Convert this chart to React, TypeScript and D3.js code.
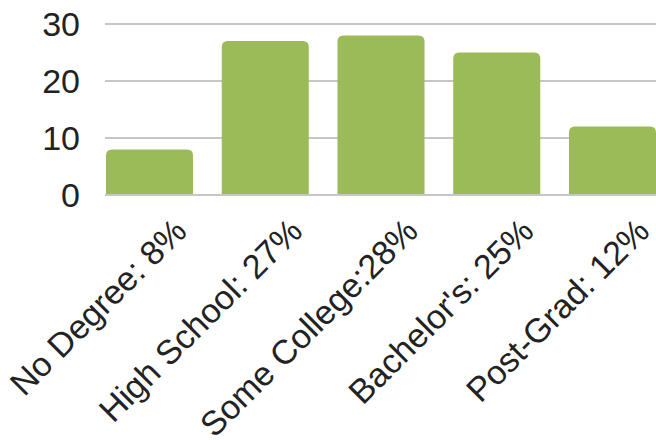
import { useEffect, useRef } from "react"
import * as d3 from "d3"

const categories = ["No Degree: 8%", "High School: 27%", "Some College:28%", "Bachelor's: 25%", "Post-Grad: 12%"]
const values = [8, 27, 28, 25, 12]
const yTicks = [0, 10, 20, 30]

export default function App() {
  const svgRef = useRef<SVGSVGElement>(null)

  useEffect(() => {
    if (!svgRef.current) return
    const width = 656
    const height = 440

    const svg = d3.select(svgRef.current)
    svg.selectAll("*").remove()
    svg.attr("width", width).attr("height", height)

    const x = d3.scaleBand<string>()
      .domain(categories)
      .range([106, 656])
      .paddingInner(0.248)
      .paddingOuter(0)

    const y = d3.scaleLinear().domain([0, 30]).range([195, 24])

    // gridlines
    svg.append("g")
      .selectAll("line")
      .data(yTicks)
      .enter().append("line")
      .attr("x1", 105)
      .attr("x2", width)
      .attr("y1", d => y(d))
      .attr("y2", d => y(d))
      .attr("stroke", "#c6c6c6")
      .attr("stroke-width", 2)

    // y tick labels
    svg.append("g")
      .selectAll("text")
      .data(yTicks)
      .enter().append("text")
      .attr("x", 80)
      .attr("y", d => y(d))
      .attr("dy", "0.36em")
      .attr("text-anchor", "end")
      .attr("font-family", "'Liberation Sans', Arial, sans-serif")
      .attr("font-size", 34)
      .attr("fill", "#222")
      .text(d => d)

    // bars with rounded top corners
    const r = 6
    const barPath = (i: number) => {
      const x0 = x(categories[i]) as number
      const w = x.bandwidth()
      const y0 = y(0) - 1
      const y1 = y(values[i])
      const p = d3.path()
      p.moveTo(x0, y0)
      p.lineTo(x0, y1 + r)
      p.quadraticCurveTo(x0, y1, x0 + r, y1)
      p.lineTo(x0 + w - r, y1)
      p.quadraticCurveTo(x0 + w, y1, x0 + w, y1 + r)
      p.lineTo(x0 + w, y0)
      p.closePath()
      return p.toString()
    }

    svg.append("g")
      .selectAll("path")
      .data(values)
      .enter().append("path")
      .attr("d", (_, i) => barPath(i))
      .attr("fill", "#9bbb59")

    // category labels, rotated
    svg.append("g")
      .selectAll("text")
      .data(categories)
      .enter().append("text")
      .attr("transform", d => `translate(${(x(d) as number) + x.bandwidth() / 2 + 39},233) rotate(-45)`)
      .attr("text-anchor", "end")
      .attr("font-family", "'Liberation Sans', Arial, sans-serif")
      .attr("font-size", 34)
      .attr("fill", "#222")
      .text(d => d)
  }, [])

  return (
    <div style={{ position: "fixed", left: 0, top: 0, background: "#fff" }}>
      <svg ref={svgRef} style={{ display: "block" }}></svg>
    </div>
  )
}
